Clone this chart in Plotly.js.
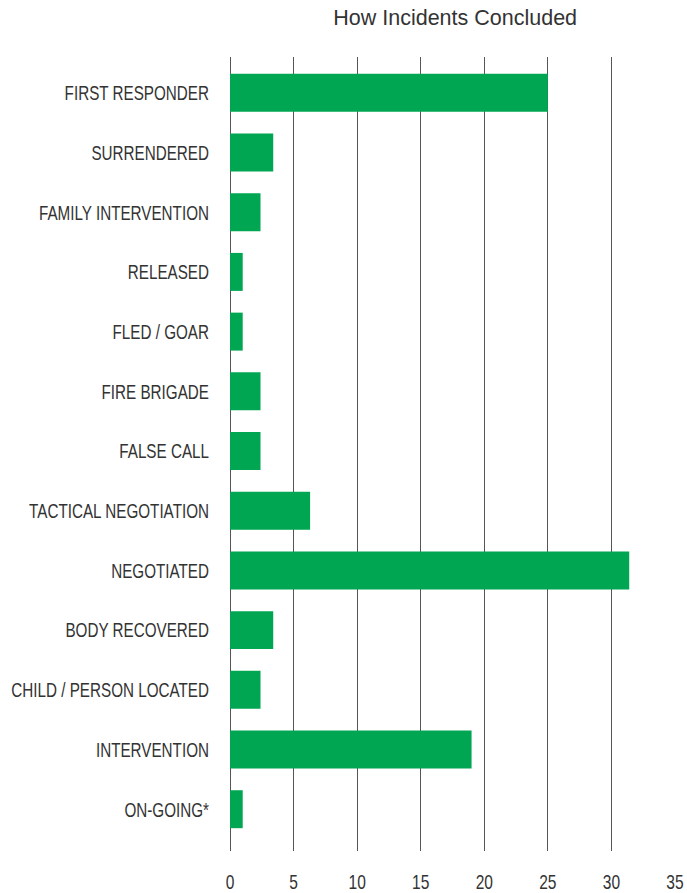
<!DOCTYPE html>
<html>
<head>
<meta charset="utf-8">
<script src="https://cdn.plot.ly/plotly-3.0.1.min.js"></script>
<style>
html,body{margin:0;padding:0;background:#fff;}
#chart{width:687px;height:893px;}
</style>
</head>
<body>
<div id="chart"></div>
<script>
var categories = [
  "FIRST RESPONDER",
  "SURRENDERED",
  "FAMILY INTERVENTION",
  "RELEASED",
  "FLED / GOAR",
  "FIRE BRIGADE",
  "FALSE CALL",
  "TACTICAL NEGOTIATION",
  "NEGOTIATED",
  "BODY RECOVERED",
  "CHILD / PERSON LOCATED",
  "INTERVENTION",
  "ON-GOING*"
];
var values = [25, 3.4, 2.4, 1, 1, 2.4, 2.4, 6.3, 31.4, 3.4, 2.4, 19, 1];
var tickValues = [0, 5, 10, 15, 20, 25, 30, 35];
var chartTitle = "How Incidents Concluded";

var labelFont = "'Liberation Sans', Arial, sans-serif";

var trace = {
  type: "bar",
  orientation: "h",
  x: values,
  y: categories,
  marker: {color: "#00a651", line: {width: 0}},
  hoverinfo: "x+y"
};

var layout = {
  width: 687,
  height: 893,
  margin: {l: 230, r: 12, t: 57, b: 42, pad: 0},
  paper_bgcolor: "#ffffff",
  plot_bgcolor: "#ffffff",
  showlegend: false,
  bargap: 0.364,
  title: {
    text: chartTitle,
    font: {family: "'Liberation Sans', Arial, sans-serif", size: 21.5, color: "#333333"},
    xref: "paper",
    x: 0.506,
    xanchor: "center",
    yref: "container",
    y: 1 - 17 / 893,
    yanchor: "middle"
  },
  xaxis: {
    range: [0, 35],
    tickmode: "array",
    tickvals: tickValues,
    ticktext: tickValues.map(String),
    showgrid: true,
    gridcolor: "#555555",
    gridwidth: 1,
    zeroline: true,
    zerolinecolor: "#555555",
    zerolinewidth: 1,
    showline: false,
    ticks: "",
    ticklabelstandoff: 16,
    tickfont: {family: labelFont, size: 21, color: "#333333"},
    fixedrange: true
  },
  yaxis: {
    type: "category",
    categoryorder: "array",
    categoryarray: categories,
    range: [12.7, -0.6],
    autorange: false,
    showgrid: false,
    zeroline: false,
    showline: false,
    ticks: "",
    ticklabelstandoff: 20,
    tickfont: {family: labelFont, size: 21, color: "#333333"},
    fixedrange: true
  }
};

function condense(selector, factor) {
  var nodes = document.querySelectorAll(selector);
  nodes.forEach(function (t) {
    var w = t.getComputedTextLength();
    if (w > 0) {
      t.setAttribute("textLength", (w * factor).toFixed(2));
      t.setAttribute("lengthAdjust", "spacingAndGlyphs");
    }
  });
}

Plotly.newPlot("chart", [trace], layout, {displayModeBar: false, staticPlot: true}).then(function () {
  condense("#chart .ytick text", 0.725);
  condense("#chart .xtick text", 0.74);
});
</script>
</body>
</html>
